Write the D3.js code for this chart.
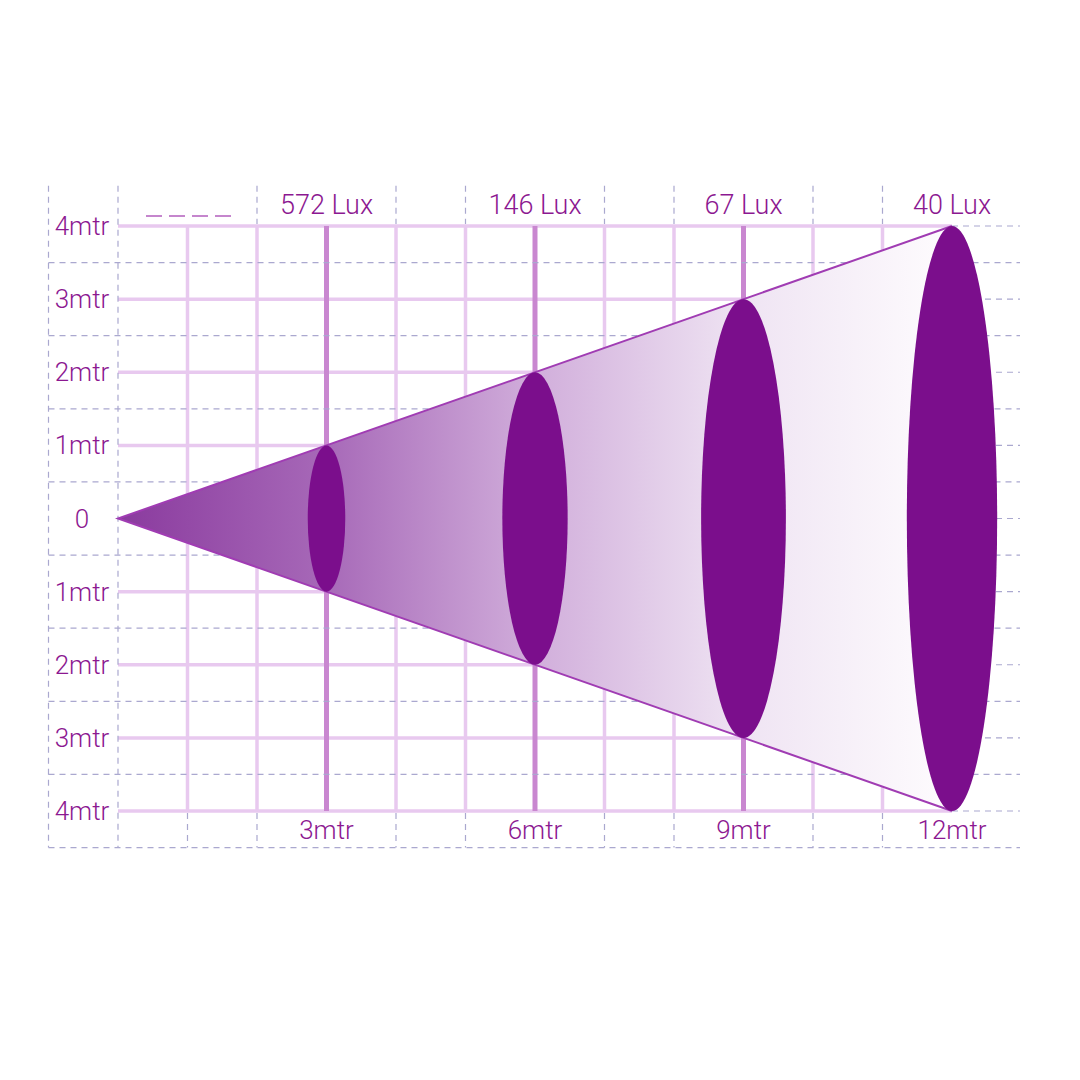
<!DOCTYPE html>
<html>
<head>
<meta charset="utf-8">
<script src="https://cdn.jsdelivr.net/npm/d3@7"></script>
<style>
  html, body { margin: 0; padding: 0; background: #fff; }
  svg { display: block; }
</style>
</head>
<body>
<svg id="chart" width="1080" height="1080"></svg>
<script>
// Data
const distances = [3, 6, 9, 12];            // metres from the lamp
const luxValues = ["572 Lux", "146 Lux", "67 Lux", "40 Lux"];
const beamRadius = [1, 2, 3, 4];            // half width of the beam at each distance (m)
const distLabels = ["3mtr", "6mtr", "9mtr", "12mtr"];
const heightTicks = [4, 3, 2, 1, 0, -1, -2, -3, -4];
const heightLabels = ["4mtr", "3mtr", "2mtr", "1mtr", "0", "1mtr", "2mtr", "3mtr", "4mtr"];
const gridMetres = [1, 2, 3, 4, 5, 6, 7, 8, 9, 10, 11];
const halfLevels = [3.5, 2.5, 1.5, 0.5, -0.5, -1.5, -2.5, -3.5];

// Globals
const svg = d3.select("#chart");
const labelColor = "#8c1891";
const gridColor = "#e8c9ef";
const gridStrong = "#c987d0";
const dashColor = "#aaa8cf";

// Scales
const xScale = d3.scaleLinear().domain([0, 12]).range([118, 952]);
const yScale = d3.scaleLinear().domain([-4, 4]).range([811, 226]);

const xLeft = xScale(-1);     // outer dashed frame
const xRight = 1020;
const yTop = yScale(4.55);
const yBottom = yScale(-4.5);

const dash = g => g.attr("stroke", dashColor).attr("stroke-width", 1.2).attr("stroke-dasharray", "6,5");

// Solid grid
const grid = svg.append("g");
heightTicks.filter(h => h !== 0).forEach(h => {
  grid.append("line")
    .attr("x1", xScale(0)).attr("x2", xScale(12))
    .attr("y1", yScale(h)).attr("y2", yScale(h))
    .attr("stroke", gridColor).attr("stroke-width", 3.5);
});
gridMetres.forEach(m => {
  const strong = distances.includes(m);
  grid.append("line")
    .attr("x1", xScale(m)).attr("x2", xScale(m))
    .attr("y1", yScale(4)).attr("y2", yScale(-4))
    .attr("stroke", strong ? gridStrong : gridColor)
    .attr("stroke-width", strong ? 5 : 3.5);
});

// Dashed frame lines
const dashed = svg.append("g");
[xLeft, xScale(0)].forEach(x => {
  dashed.append("line").call(dash)
    .attr("x1", x).attr("x2", x).attr("y1", yTop).attr("y2", yBottom);
});
dashed.append("line").call(dash)
  .attr("x1", xLeft).attr("x2", xRight).attr("y1", yBottom).attr("y2", yBottom);

// dashed half-metre levels
halfLevels.forEach(h => {
  dashed.append("line").call(dash)
    .attr("x1", xLeft).attr("x2", xRight)
    .attr("y1", yScale(h)).attr("y2", yScale(h));
});
// dashed continuation of whole metres right of 12m
heightTicks.forEach(h => {
  dashed.append("line").call(dash)
    .attr("x1", xScale(12)).attr("x2", xRight)
    .attr("y1", yScale(h)).attr("y2", yScale(h));
});

// short dashed verticals in the top and bottom bands
gridMetres.filter(m => m % 3 !== 0).forEach(m => {
  if (m !== 1) {
    dashed.append("line").call(dash)
      .attr("x1", xScale(m)).attr("x2", xScale(m))
      .attr("y1", yTop).attr("y2", yScale(4) - 2);
  }
  dashed.append("line").call(dash)
    .attr("x1", xScale(m)).attr("x2", xScale(m))
    .attr("y1", yScale(-4) + 2).attr("y2", yBottom);
});

// legend-ish dashes top left
svg.append("line")
  .attr("x1", 146).attr("x2", 231).attr("y1", 216).attr("y2", 216)
  .attr("stroke", "#b35fbd").attr("stroke-width", 1.5)
  .attr("stroke-dasharray", "16,7");

// Beam cone
const defs = svg.append("defs");
const grad = defs.append("linearGradient")
  .attr("id", "beam")
  .attr("gradientUnits", "userSpaceOnUse")
  .attr("x1", xScale(0)).attr("x2", xScale(12))
  .attr("y1", 0).attr("y2", 0);
[
  [0, "#8a3a9e"],
  [0.25, "#a769b8"],
  [0.5, "#d1aedb"],
  [0.75, "#efe4f3"],
  [1, "#fefcfe"]
].forEach(([o, c]) => grad.append("stop").attr("offset", o).attr("stop-color", c));

const last = distances.length - 1;
const cone = [
  [xScale(0), yScale(0)],
  [xScale(distances[last]), yScale(beamRadius[last])],
  [xScale(distances[last]), yScale(-beamRadius[last])]
];
svg.append("path")
  .attr("d", d3.line()(cone) + "Z")
  .attr("fill", "url(#beam)");

svg.append("path")
  .attr("d", d3.line()([cone[1], cone[0], cone[2]]))
  .attr("fill", "none")
  .attr("stroke", "#a03cb3")
  .attr("stroke-width", 2);

// Light discs (ellipses seen edge-on)
const discDepth = [0.27, 0.47, 0.61, 0.65]; // apparent half width in metres
svg.append("g")
  .selectAll("ellipse")
  .data(distances)
  .join("ellipse")
  .attr("cx", d => xScale(d))
  .attr("cy", yScale(0))
  .attr("rx", (d, i) => xScale(discDepth[i]) - xScale(0))
  .attr("ry", (d, i) => yScale(0) - yScale(beamRadius[i]))
  .attr("fill", "#7b0e8c");

// Labels
const font = "Roboto, 'DejaVu Sans', sans-serif";

svg.append("g")
  .selectAll("text")
  .data(heightTicks)
  .join("text")
  .attr("x", 82)
  .attr("y", d => yScale(d) + 9)
  .attr("text-anchor", "middle")
  .attr("font-family", font)
  .attr("font-weight", 300)
  .attr("font-size", 26)
  .attr("fill", labelColor)
  .text((d, i) => heightLabels[i]);

svg.append("g")
  .selectAll("text")
  .data(distances)
  .join("text")
  .attr("x", d => xScale(d))
  .attr("y", 214)
  .attr("text-anchor", "middle")
  .attr("font-family", font)
  .attr("font-weight", 300)
  .attr("font-size", 27)
  .attr("fill", labelColor)
  .text((d, i) => luxValues[i]);

svg.append("g")
  .selectAll("text")
  .data(distances)
  .join("text")
  .attr("x", d => xScale(d))
  .attr("y", 839)
  .attr("text-anchor", "middle")
  .attr("font-family", font)
  .attr("font-weight", 300)
  .attr("font-size", 26)
  .attr("fill", labelColor)
  .text((d, i) => distLabels[i]);
</script>
</body>
</html>
